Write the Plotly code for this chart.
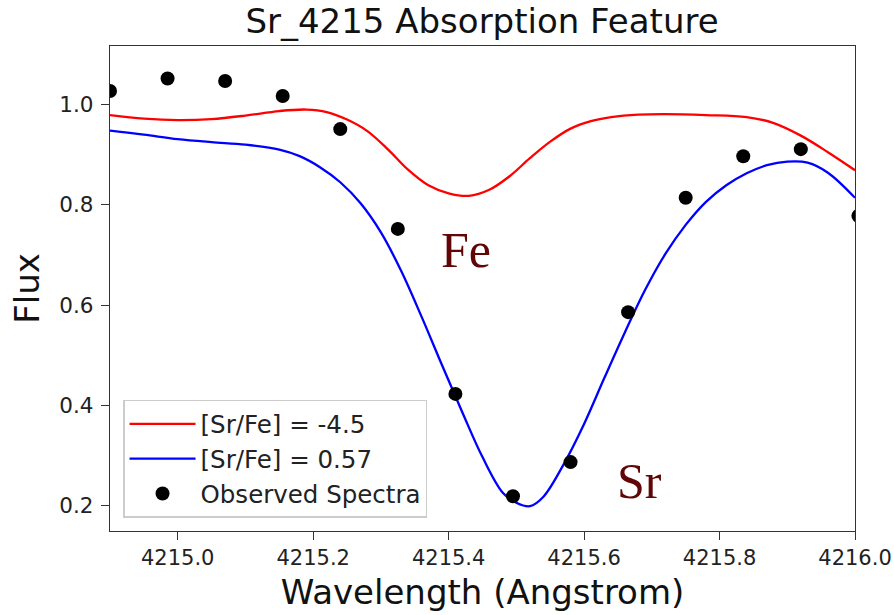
import plotly.graph_objects as go

# Observed spectra (black dots)
obs_wave = [4214.90, 4214.985, 4215.07, 4215.155, 4215.24, 4215.325, 4215.41,
            4215.495, 4215.58, 4215.665, 4215.75, 4215.835, 4215.92, 4216.005]
obs_flux = [1.027, 1.052, 1.047, 1.017, 0.951, 0.752, 0.423,
            0.219, 0.287, 0.586, 0.814, 0.897, 0.911, 0.778]

# Synthetic spectrum [Sr/Fe] = -4.5 (red)
red_wave = [4214.90, 4214.95, 4215.00, 4215.05, 4215.10, 4215.15, 4215.19, 4215.22,
            4215.25, 4215.28, 4215.31, 4215.34, 4215.37, 4215.40, 4215.43, 4215.46,
            4215.49, 4215.52, 4215.55, 4215.58, 4215.61, 4215.64, 4215.68, 4215.72,
            4215.78, 4215.84, 4215.88, 4215.92, 4215.96, 4216.00]
red_flux = [0.979, 0.972, 0.969, 0.971, 0.978, 0.987, 0.990, 0.985,
            0.970, 0.947, 0.911, 0.870, 0.839, 0.823, 0.818, 0.830,
            0.857, 0.893, 0.926, 0.952, 0.967, 0.975, 0.980, 0.981,
            0.979, 0.975, 0.963, 0.938, 0.905, 0.869]

# Synthetic spectrum [Sr/Fe] = 0.57 (blue)
blue_wave = [4214.90, 4214.95, 4215.00, 4215.05, 4215.10, 4215.15, 4215.18, 4215.21,
             4215.24, 4215.27, 4215.30, 4215.33, 4215.36, 4215.39, 4215.42, 4215.45,
             4215.48, 4215.50, 4215.52, 4215.54, 4215.57, 4215.60, 4215.63, 4215.66,
             4215.69, 4215.72, 4215.75, 4215.78, 4215.81, 4215.84, 4215.87, 4215.90,
             4215.93, 4215.96, 4216.00]
blue_flux = [0.948, 0.940, 0.931, 0.925, 0.920, 0.910, 0.897, 0.875,
             0.845, 0.803, 0.745, 0.668, 0.577, 0.481, 0.387, 0.297,
             0.226, 0.206, 0.199, 0.218, 0.283, 0.363, 0.455, 0.545,
             0.630, 0.702, 0.760, 0.806, 0.839, 0.863, 0.879, 0.886,
             0.884, 0.864, 0.814]

x_ticks = [4215.0, 4215.2, 4215.4, 4215.6, 4215.8, 4216.0]
y_ticks = [0.2, 0.4, 0.6, 0.8, 1.0]

FONT = "DejaVu Sans"

fig = go.Figure()
fig.add_trace(go.Scatter(x=red_wave, y=red_flux, mode="lines", name="[Sr/Fe] = -4.5",
                         line=dict(color="#ff0000", width=2.3, shape="spline", smoothing=1.0),
                         legendgroup="a"))
fig.add_trace(go.Scatter(x=blue_wave, y=blue_flux, mode="lines", name="[Sr/Fe] = 0.57",
                         line=dict(color="#0000ff", width=2.3, shape="spline", smoothing=1.0),
                         legendgroup="b"))
fig.add_trace(go.Scatter(x=obs_wave, y=obs_flux, mode="markers", name="Observed Spectra",
                         marker=dict(color="black", size=14), cliponaxis=True,
                         legendgroup="c"))

fig.add_annotation(x=4215.425, y=0.71, text="Fe", showarrow=False,
                   font=dict(family="Liberation Serif", size=50, color="#600606"))
fig.add_annotation(x=4215.682, y=0.249, text="Sr", showarrow=False,
                   font=dict(family="Liberation Serif", size=50, color="#600606"))

fig.update_layout(
    width=894, height=615,
    margin=dict(l=110, r=39, t=46, b=84),
    paper_bgcolor="white", plot_bgcolor="white",
    hovermode=False,
    font=dict(family=FONT, color="#222222"),
    title=dict(text="Sr_4215 Absorption Feature", x=482/894, xanchor="center",
               y=1 - 21/615, yanchor="middle", yref="container",
               font=dict(family=FONT, size=34, color="#111111")),
    showlegend=True,
    legend=dict(x=0.0175, y=0.027, xanchor="left", yanchor="bottom",
                bgcolor="rgba(255,255,255,0.9)", bordercolor="#cccccc", borderwidth=1.5,
                font=dict(family=FONT, size=24.5, color="#222222"),
                tracegroupgap=0, itemwidth=66),
)
fig.update_xaxes(range=[4214.9, 4216.0], tickvals=x_ticks, tickformat=".1f",
                 automargin=False,
                 showgrid=False, zeroline=False, showline=True, mirror=True,
                 linecolor="#333333", linewidth=1.4, ticks="outside", ticklen=8,
                 tickwidth=1.4, tickcolor="#333333",
                 tickfont=dict(family=FONT, size=21, color="#222222"),
                 title=dict(text="Wavelength (Angstrom)", standoff=10,
                            font=dict(family=FONT, size=34, color="#111111")))
fig.update_yaxes(range=[0.1496, 1.1167], tickvals=y_ticks, tickformat=".1f",
                 automargin=False,
                 showgrid=False, zeroline=False, showline=True, mirror=True,
                 linecolor="#333333", linewidth=1.4, ticks="outside", ticklen=8,
                 tickwidth=1.4, tickcolor="#333333", ticklabelstandoff=3,
                 tickfont=dict(family=FONT, size=21.5, color="#222222"),
                 title=dict(text="Flux", standoff=9,
                            font=dict(family=FONT, size=34, color="#111111")))

# remove the page's default 8px body margin so the figure sits at the window's corner
fig.write_html("out.html", config={"displayModeBar": False},
               post_script="document.body.style.margin='0px';")
